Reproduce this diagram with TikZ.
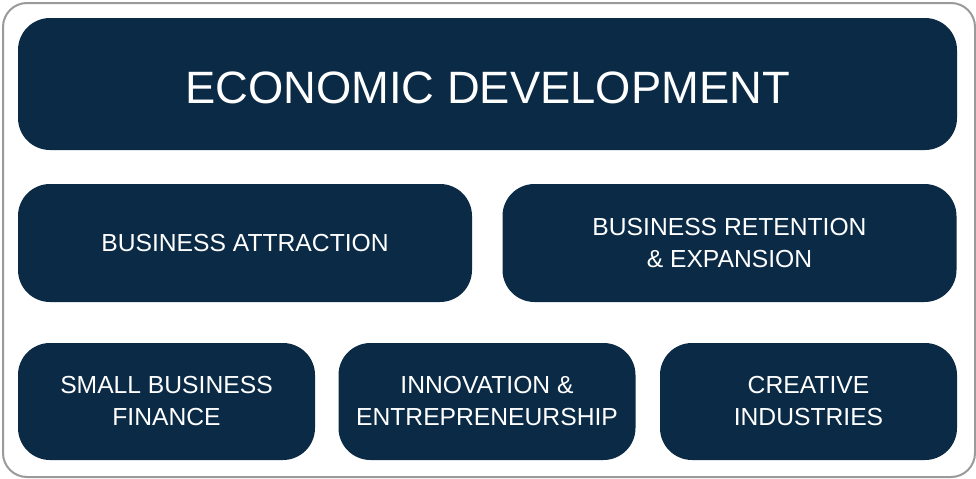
\documentclass[tikz,border=0pt]{standalone}
\usepackage{fontspec}
\setmainfont{Liberation Sans}
\definecolor{navy}{HTML}{0B2A45}
\definecolor{framegray}{HTML}{9A9A9A}

\begin{document}
\begin{tikzpicture}[x=0.75pt,y=-0.75pt]

% Box style
\tikzset{
    block/.style={fill=navy, text=white, rounded corners=24pt, align=center, inner sep=0pt},
    wide/.style={block, minimum width=704.25pt, minimum height=99pt, font=\fontsize{34}{40}\selectfont},
    half/.style={block, minimum width=340.5pt, minimum height=88.5pt, font=\fontsize{18.5}{24}\selectfont},
    third/.style={block, minimum width=222.75pt, minimum height=87.75pt, font=\fontsize{18.5}{24}\selectfont}
}
\useasboundingbox (0,0) rectangle (976,479);
\draw[framegray, line width=1.5pt, rounded corners=18pt] (3,3) rectangle (975,477);

\node[wide] (ED) at (487.5,84) {\raisebox{-2.5pt}[\height][0pt]{ECONOMIC DEVELOPMENT}};
\node[half] (BA) at (245,243) {BUSINESS ATTRACTION};
\node[half] (BRE) at (729.5,243) {BUSINESS RETENTION\\\& EXPANSION};
\node[third] (SBF) at (166.5,401.5) {SMALL BUSINESS\\FINANCE};
\node[third] (IE) at (487,401.5) {INNOVATION \&\\ENTREPRENEURSHIP};
\node[third] (CI) at (808.5,401.5) {CREATIVE\\INDUSTRIES};
\end{tikzpicture}
\end{document}
